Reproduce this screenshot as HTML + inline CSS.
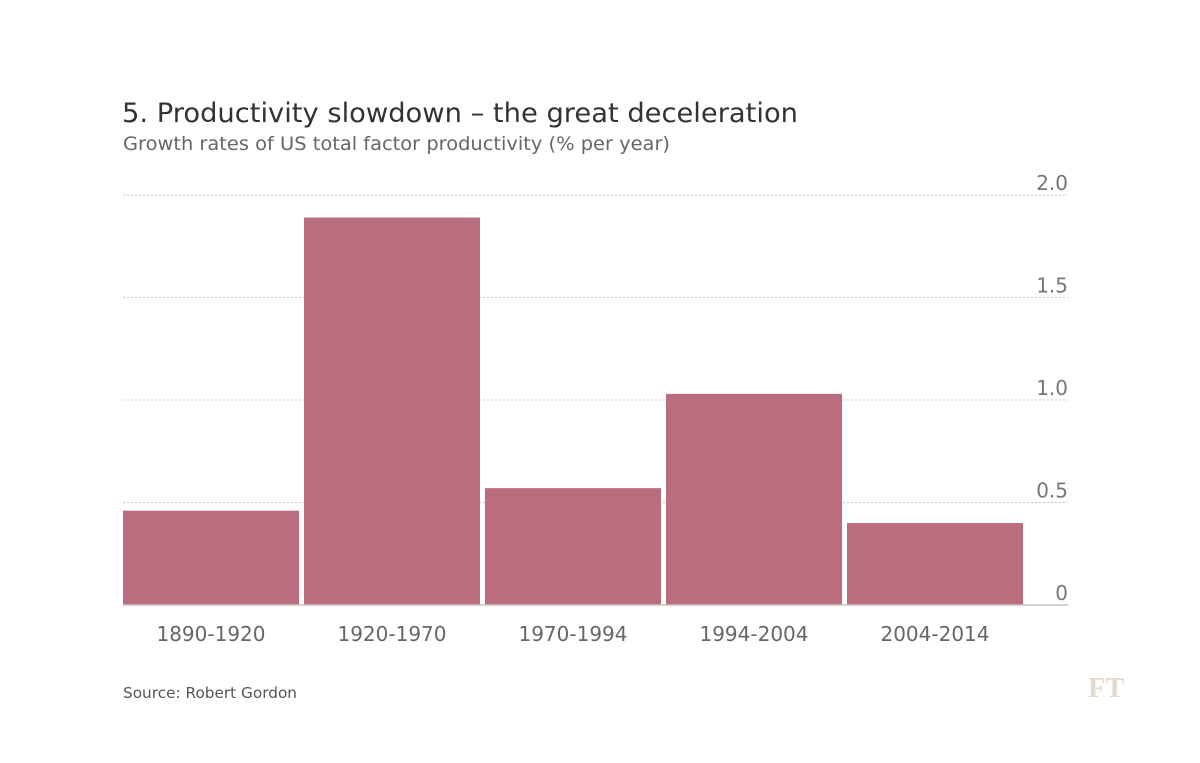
<!DOCTYPE html>
<html><head><meta charset="utf-8"><style>
body{margin:0;background:#fff;}
svg{display:block;font-family:"DejaVu Sans","Liberation Sans",sans-serif;}
</style></head><body>
<svg width="1200" height="763" viewBox="0 0 1200 763">
<text x="122" y="122" font-size="27" fill="#333" textLength="676" lengthAdjust="spacingAndGlyphs">5. Productivity slowdown – the great deceleration</text>
<text x="123" y="150" font-size="19" fill="#666" textLength="547" lengthAdjust="spacingAndGlyphs">Growth rates of US total factor productivity (% per year)</text>
<g id="grid"></g>
<g id="bars"></g>
<g id="xlabels"></g>
<line x1="123" x2="1068" y1="605" y2="605" stroke="#c8c0bc" stroke-width="1.5"/>
<text x="123" y="698" font-size="15" fill="#555" textLength="174" lengthAdjust="spacingAndGlyphs">Source: Robert Gordon</text>
<text x="1124" y="697" font-size="28" fill="#e4d8cc" text-anchor="end" font-family="Liberation Serif,serif" font-weight="bold">FT</text>
</svg>
<script>
const categories=["1890-1920","1920-1970","1970-1994","1994-2004","2004-2014"];
const values=[0.46,1.89,0.57,1.03,0.40];
const ticks=[0,0.5,1.0,1.5,2.0];
const tickLabels=["0","0.5","1.0","1.5","2.0"];
const ns="http://www.w3.org/2000/svg";
const y0=605,pxPer=205,x0=123,step=181,bw=176;
const y=v=>y0-v*pxPer;
const g=document.getElementById('grid'),b=document.getElementById('bars'),xl=document.getElementById('xlabels');
ticks.forEach((t,i)=>{
 if(t>0){const l=document.createElementNS(ns,'line');
 l.setAttribute('x1',123);l.setAttribute('x2',1068);l.setAttribute('y1',y(t));l.setAttribute('y2',y(t));
 l.setAttribute('stroke','#c8c4c4');l.setAttribute('stroke-dasharray','2,2');
 
 
 g.appendChild(l);}
 const tx=document.createElementNS(ns,'text');
 tx.setAttribute('x',1068);tx.setAttribute('y',y(t)-5);tx.setAttribute('text-anchor','end');
 tx.setAttribute('font-size','20');tx.setAttribute('fill','#777');tx.textContent=tickLabels[i];
 
 
 g.appendChild(tx);
});
categories.forEach((c,i)=>{
 const r=document.createElementNS(ns,'rect');
 r.setAttribute('x',x0+i*step);r.setAttribute('y',y(values[i]));r.setAttribute('width',bw);r.setAttribute('height',values[i]*pxPer);
 r.setAttribute('fill','#b96d7e');
 
 
 b.appendChild(r);
 const t=document.createElementNS(ns,'text');
 t.setAttribute('x',x0+i*step+bw/2);t.setAttribute('y',641);t.setAttribute('text-anchor','middle');
 t.setAttribute('font-size','20');t.setAttribute('fill','#666');t.textContent=c;
 
 
 xl.appendChild(t);
});
</script>
</body></html>
